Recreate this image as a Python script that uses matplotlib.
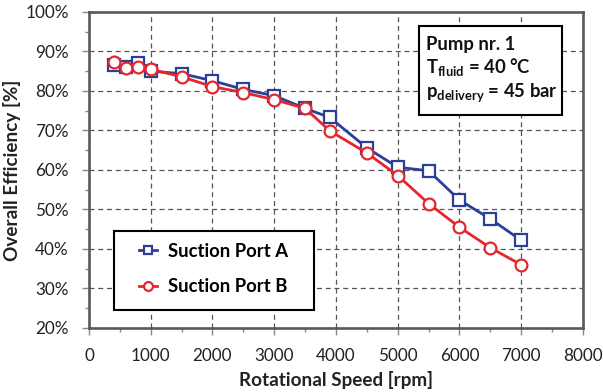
import matplotlib
matplotlib.use('Agg')
import matplotlib.pyplot as plt
from matplotlib.patches import Rectangle
from matplotlib.ticker import MultipleLocator, FuncFormatter

# values
speed = [400, 600, 800, 1000, 1500, 2000, 2500, 3000, 3500, 3900, 4500, 5000, 5500, 6000, 6500, 7000]
eff_port_a = [86.6, 86.2, 87.0, 85.0, 84.4, 82.6, 80.4, 78.8, 75.6, 73.3, 65.6, 60.7, 59.8, 52.4, 47.6, 42.2]
eff_port_b = [87.4, 85.7, 86.0, 85.5, 83.6, 81.1, 79.6, 77.8, 75.6, 69.9, 64.3, 58.6, 51.5, 45.5, 40.3, 36.0]

plt.rcParams['font.family'] = ['Lato', 'DejaVu Sans']
plt.rcParams['mathtext.fontset'] = 'custom'
plt.rcParams['mathtext.rm'] = 'Lato'
plt.rcParams['mathtext.bf'] = 'Lato:bold'

blue = '#2B3F99'
red = '#E5262B'
axis_col = '#595959'

fig = plt.figure(figsize=(6.03, 3.92), dpi=100)
ax = fig.add_axes([0.1476, 0.1633, 0.8192, 0.8061])

ax.plot(speed, eff_port_a, color=blue, lw=2, marker='s', ms=8.3, mfc='white',
        mec=blue, mew=1.6, label='Suction Port A', zorder=3)
ax.plot(speed, eff_port_b, color=red, lw=2, marker='o', ms=8.5, mfc='white',
        mec=red, mew=1.6, label='Suction Port B', zorder=4)

ax.set_xlim(0, 8000)
ax.set_ylim(20, 100)
ax.xaxis.set_major_locator(MultipleLocator(1000))
ax.xaxis.set_minor_locator(MultipleLocator(500))
ax.yaxis.set_major_locator(MultipleLocator(10))
ax.yaxis.set_minor_locator(MultipleLocator(5))
ax.yaxis.set_major_formatter(FuncFormatter(lambda v, p: f'{v:.0f}%'))

ax.grid(True, which='major', color='#555555', ls=(0, (4, 3)), lw=0.9)
for s in ax.spines.values():
    s.set_color(axis_col)
    s.set_linewidth(1.9)
ax.tick_params(which='both', direction='out', color='#888888', labelsize=12.3,
               labelcolor='#222222', pad=9.5)
ax.tick_params(which='major', length=5, width=1)
ax.tick_params(which='minor', length=3, width=1)

ax.set_xlabel('Rotational Speed [rpm]', fontsize=13.6, fontweight='bold', color='#222222', labelpad=5)
ax.set_ylabel('Overall Efficiency [%]', fontsize=13.6, fontweight='bold', color='#222222', labelpad=3)

# legend frame drawn separately to get the wide right margin of the original
ax.add_patch(Rectangle((0.0506, 0.057), 0.405, 0.25, transform=ax.transAxes,
                       facecolor='white', edgecolor='black', lw=1.5, zorder=5))
leg = ax.legend(loc='center left', bbox_to_anchor=(0.101, 0.1867), borderaxespad=0,
                prop={'weight': 'bold', 'size': 13.3}, frameon=False,
                handlelength=1.0, handletextpad=0.6, borderpad=0,
                labelspacing=1.0, markerscale=0.75)
leg.set_zorder(6)

ax.add_patch(Rectangle((0.668, 0.674), 0.29, 0.282, transform=ax.transAxes,
                       facecolor='white', edgecolor='black', lw=1.5, zorder=5))
box_lines = ['Pump nr. 1', r'T$_{\mathbf{fluid}}$ = 40 °C', r'p$_{\mathbf{delivery}}$ = 45 bar']
box_y = [0.880, 0.807, 0.731]
for t, yb in zip(box_lines, box_y):
    ax.text(0.682, yb, t, transform=ax.transAxes, fontsize=13.3,
            fontweight='bold', va='baseline', ha='left', zorder=6, color='#111111')

fig.savefig('out.png', dpi=100)
